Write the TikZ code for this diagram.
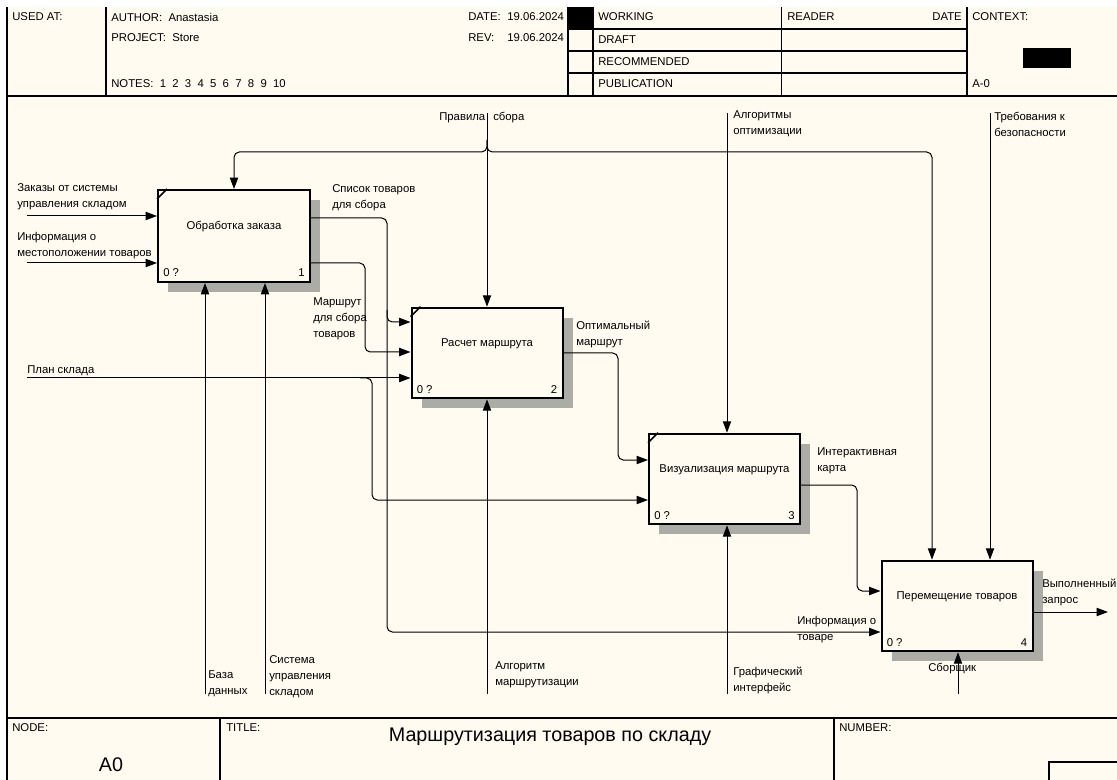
\documentclass[tikz,border=0pt]{standalone}
\usepackage{fontspec}
\setmainfont{Liberation Sans}
\usetikzlibrary{arrows.meta,shadows,calc}
\definecolor{cream}{RGB}{255,251,240}
\definecolor{shade}{RGB}{172,172,167}
\begin{document}
\begin{tikzpicture}[x=0.75pt,y=-0.75pt,
  lbl/.style={font=\fontsize{8.5}{12}\selectfont, inner sep=0pt, align=left, anchor=west},
  hdr/.style={font=\fontsize{8.5}{10}\selectfont, inner sep=0pt, anchor=west},
  big/.style={font=\fontsize{14.8}{16}\selectfont, inner sep=0pt},
  fbox/.style={draw, line width=1.5pt, fill=cream, minimum width=113.25pt, minimum height=68pt, inner sep=0pt,
     general shadow={fill=shade, shadow xshift=7.5pt, shadow yshift=-7.5pt}},
  btxt/.style={font=\fontsize{8.5}{10}\selectfont, inner sep=0pt},
  arr/.style={line width=0.75pt, rounded corners=4pt, -{Triangle[length=8.5pt,width=6.2pt]}},
  frm/.style={line width=0.9pt}]
\useasboundingbox (0,0) rectangle (1117,780);
\fill[white] (0,0) rectangle (1117,780);
\fill[cream] (7,7) rectangle (1117,780);
% frame
\draw[frm] (7,7) -- (7,780);
\draw[frm] (7,96) -- (1117,96);
\foreach \x in {106,568,593,781.5,967} \draw[frm] (\x,7) -- (\x,96);
\foreach \y in {29,51,73} \draw[frm] (568,\y) -- (967,\y);
\fill (568,7) rectangle (593,29);
\fill (1023,48) rectangle (1071,68);
\draw[frm] (7,718) -- (1117,718);
\draw[frm] (220,718) -- (220,780);
\draw[frm] (834,718) -- (834,780);
\draw[frm] (1117,762) -- (1049,762) -- (1049,780);
% header text
\node[hdr] (usedat) at (12,17) {USED AT:};
\node[hdr] (author) at (111,17) {AUTHOR:\ \ Anastasia};
\node[hdr] (project) at (111,38) {PROJECT:\ \ Store};
\node[hdr] (notes) at (111,84) {NOTES:\ \ 1\ \ 2\ \ 3\ \ 4\ \ 5\ \ 6\ \ 7\ \ 8\ \ 9\ \ 10};
\node[hdr] (datek) at (468,17) {DATE:};
\node[hdr] (datev) at (507,17) {19.06.2024};
\node[hdr] (revk) at (468,38) {REV:};
\node[hdr] (revv) at (507,38) {19.06.2024};
\node[hdr] (working) at (598,17) {WORKING};
\node[hdr] (draft) at (598,40) {DRAFT};
\node[hdr] (recom) at (598,62) {RECOMMENDED};
\node[hdr] (publ) at (598,84) {PUBLICATION};
\node[hdr] (reader) at (787,17) {READER};
\node[hdr, anchor=east] (rdate) at (962,17) {DATE};
\node[hdr] (context) at (972,17) {CONTEXT:};
\node[hdr] (am0) at (972,84) {A-0};
% footer text
\node[hdr] (nodek) at (12,728) {NODE:};
\node[big] (nodev) at (111,765) {A0};
\node[hdr] (titlek) at (226,728) {TITLE:};
\node[big] (titlev) at (550,737) {Маршрутизация товаров по складу};
\node[hdr] (numberk) at (839,728) {NUMBER:};
% boxes
\node[fbox, minimum width=114pt, minimum height=69pt] (b1) at (234,236) {};
\node[fbox] (b2) at (487,353) {};
\node[fbox] (b3) at (724.5,479) {};
\node[fbox] (b4) at (957,606) {};
\foreach \b in {b1,b2,b3} \draw[line width=1.2pt] ([yshift=-7.5pt]\b.north west) -- ([xshift=7.5pt]\b.north west);
\node[btxt, yshift=6.75pt] (b1t) at (b1.center) {Обработка заказа};
\node[btxt, yshift=6.75pt] (b2t) at (b2.center) {Расчет маршрута};
\node[btxt, yshift=6.75pt] (b3t) at (b3.center) {Визуализация маршрута};
\node[btxt, yshift=6.75pt] (b4t) at (b4.center) {Перемещение товаров};
\foreach \b/\n in {b1/1,b2/2,b3/3,b4/4}{
  \node[btxt, anchor=base west] (\b z) at ([shift={(4.5pt,4.5pt)}]\b.south west) {0 ?};
  \node[btxt, anchor=base east] (\b n) at ([shift={(-4.5pt,4.5pt)}]\b.south east) {\n};
}
% free ends
\coordinate (i1) at (27,216);
\coordinate (i2) at (27,263);
\coordinate (ps) at (27,378);
\coordinate (pr) at (487,113);
\coordinate (ao) at (727,113);
\coordinate (tb) at (990,113);
\coordinate (m1) at (205,694);
\coordinate (m2) at (265,694);
\coordinate (m3) at (487,694);
\coordinate (m4) at (727,694);
\coordinate (m5) at (958,694);
\coordinate (out4) at (1108,612);
% connectors
\draw[arr] (i1) -- (i1 -| b1.west);
\draw[arr] (i2) -- (i2 -| b1.west);
\draw[arr] (ps) -- (ps -| b2.west);
\draw[arr] (360,378) -- (372,378) -- (372,500) -- (b3.west |- 0,500);
\draw[arr] (pr) -- (b2.north);
\draw[arr] (487,140) -- (487,152) -- (234,152) -- (b1.north);
\draw[arr] (487,140) -- (487,152) -- (932,152) -- (932,0 |- b4.north);
\draw[arr] (ao) -- (727,0 |- b3.north);
\draw[arr] (tb) -- (990,0 |- b4.north);
\draw[arr] (b1.east |- 0,218) -- (387,218) -- (387,632) -- (b4.west |- 0,632);
\draw[arr] (387,310) -- (387,322) -- (b2.west |- 0,322);
\draw[arr] (b1.east |- 0,263) -- (365,263) -- (365,352) -- (b2.west |- 0,352);
\draw[arr] (b2.east |- 0,353) -- (618,353) -- (618,460) -- (b3.west |- 0,460);
\draw[arr] (b3.east |- 0,485) -- (857,485) -- (857,591) -- (b4.west |- 0,591);
\draw[arr] (b4.east |- 0,612) -- (out4);
\draw[arr] (m1) -- (205,0 |- b1.south);
\draw[arr] (m2) -- (265,0 |- b1.south);
\draw[arr] (m3) -- (b2.south);
\draw[arr] (m4) -- (727,0 |- b3.south);
\draw[arr] (m5) -- (958,0 |- b4.south);
% labels
\node[lbl] (l1) at (17,197) {Заказы от системы\\управления складом};
\node[lbl] (l2) at (17,246) {Информация о\\местоположении товаров};
\node[lbl] (l3) at (332,198) {Список товаров\\для сбора};
\node[lbl] (l4) at (313,319) {Маршрут\\для сбора\\товаров};
\node[lbl] (l5) at (576,334) {Оптимальный\\маршрут};
\node[lbl] (l6) at (27,371) {План склада};
\node[lbl] (l7) at (439,118) {Правила\hspace{6pt}сбора};
\node[lbl] (l8) at (733,124) {Алгоритмы\\оптимизации};
\node[lbl] (l9) at (994,124) {Требования к\\безопасности};
\node[lbl] (l10) at (817,461) {Интерактивная\\карта};
\node[lbl] (l11) at (1042,592) {Выполненный\\запрос};
\node[lbl] (l12) at (797,630) {Информация о\\товаре};
\node[lbl] (l13) at (928,669) {Сборщик};
\node[lbl] (l14) at (208,684) {База\\данных};
\node[lbl] (l15) at (269,677) {Система\\управления\\складом};
\node[lbl] (l16) at (495,675) {Алгоритм\\маршрутизации};
\node[lbl] (l17) at (733,680) {Графический\\интерфейс};
\end{tikzpicture}
\end{document}
